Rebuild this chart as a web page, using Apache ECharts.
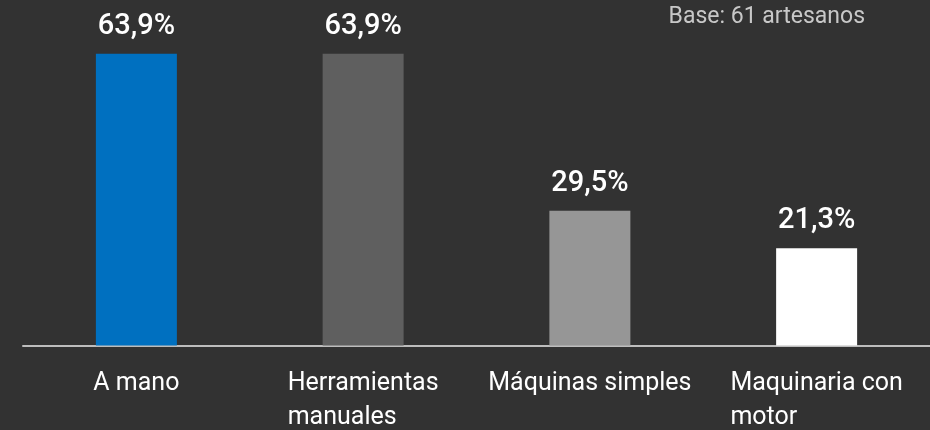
<!DOCTYPE html>
<html>
<head>
<meta charset="utf-8">
<script src="https://cdn.jsdelivr.net/npm/echarts@6/dist/echarts.min.js"></script>
<style>
  html, body { margin: 0; padding: 0; background: #323232; }
  #chart { width: 930px; height: 430px; }
</style>
</head>
<body>
<div id="chart"></div>
<script>
const categories = ['A mano', 'Herramientas\nmanuales', 'Máquinas simples', 'Maquinaria con\nmotor'];
const values = [63.9, 63.9, 29.5, 21.3];
const barColors = ['#0070C0', '#5F5F5F', '#969696', '#FFFFFF'];
const baseNote = 'Base: 61 artesanos';

const chart = echarts.init(document.getElementById('chart'), null, { renderer: 'canvas' });
const FONT = 'Roboto, "Noto Sans", sans-serif';

chart.setOption({
  backgroundColor: '#323232',
  animation: false,
  grid: { left: 23, right: -5, top: 26, bottom: 82, containLabel: false },
  xAxis: {
    type: 'category',
    data: categories,
    axisLine: { show: true, lineStyle: { color: '#BDBDBD', width: 2 } },
    axisTick: { show: false },
    axisLabel: {
      interval: 0,
      margin: 21,
      align: 'center',
      formatter: v => v.split('\n').map(s => '{l|' + s + '}').join('\n'),
      rich: {
        l: { align: 'left', color: '#FFFFFF', fontFamily: FONT, fontSize: 25, lineHeight: 34 }
      }
    }
  },
  yAxis: {
    type: 'value',
    min: 0,
    max: 70,
    show: false,
    splitLine: { show: false }
  },
  series: [{
    type: 'bar',
    barWidth: 81,
    data: values.map((v, i) => ({ value: v, itemStyle: { color: barColors[i] } })),
    label: {
      show: true,
      position: 'top',
      distance: 13,
      color: '#FFFFFF',
      fontFamily: FONT,
      fontSize: 29,
      fontWeight: 500,
      formatter: p => p.value.toFixed(1).replace('.', ',') + '%'
    }
  }],
  graphic: [{
    type: 'text',
    right: 65,
    top: 6,
    style: {
      text: baseNote,
      fill: '#C8C8C8',
      font: '23px ' + FONT
    }
  }]
});
</script>
</body>
</html>
